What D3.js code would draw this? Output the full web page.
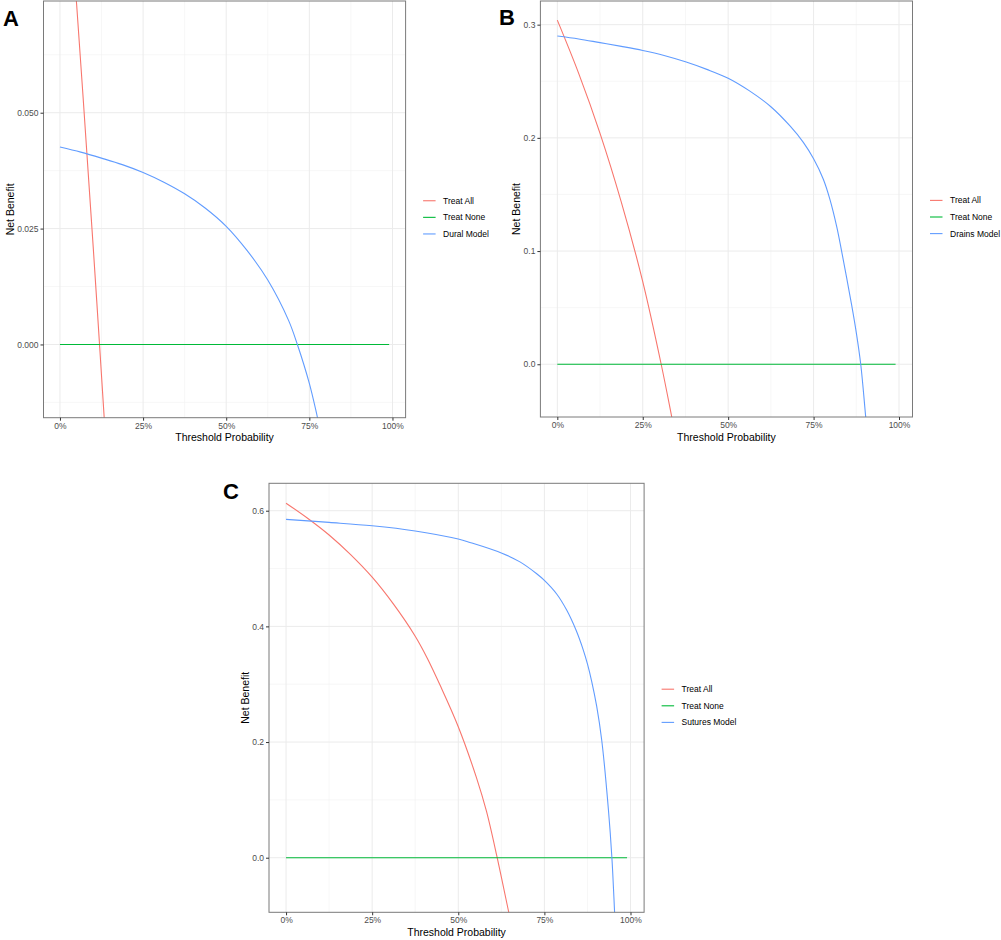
<!DOCTYPE html>
<html>
  <head>
    <title> Decision Curves </title>
    <script src="https://d3js.org/d3.v7.min.js"></script>
    <style>
      body { margin: 0; background: #fff; }
      svg { display: block; font-family: "Liberation Sans", Arial, sans-serif; }
    </style>
  </head>
  <body>
  <svg width="1001" height="940"></svg>
  <script>

    //threshold ticks shared by all panels
    var xTicks = [0, 0.25, 0.5, 0.75, 1];
    var xMinor = [0.125, 0.375, 0.625, 0.875];

    //treat none is flat on zero everywhere
    var noneX = [0, 0.99];
    var noneY = [0, 0];

    //panel A - dural
    var aAllX = [0, 0.05, 0.10, 0.119, 0.15];
    var aAllY = [0.122, 0.0735, 0.021, 0, -0.035];
    var aModelX = [0, 0.0625, 0.125, 0.1875, 0.25, 0.3125, 0.375, 0.4375, 0.5, 0.5625, 0.625, 0.6875, 0.714, 0.75, 0.774, 0.8];
    var aModelY = [0.0426, 0.0415, 0.0402, 0.0388, 0.0371, 0.0350, 0.0325, 0.0294, 0.0255, 0.0203, 0.0139, 0.0052, 0, -0.0084, -0.0156, -0.024];
    var aYTicks = [0, 0.025, 0.05];
    var aYMinor = [-0.0125, 0.0125, 0.0375, 0.0625];
    var aNames = ["Treat All", "Treat None", "Dural Model"];

    //panel B - drains
    var bAllX = [0, 0.0625, 0.125, 0.1875, 0.25, 0.304, 0.335, 0.35];
    var bAllY = [0.304, 0.257, 0.204, 0.143, 0.073, 0, -0.0466, -0.07];
    var bModelX = [0, 0.0625, 0.125, 0.1875, 0.25, 0.3125, 0.375, 0.4375, 0.5, 0.5625, 0.625, 0.681, 0.72, 0.75, 0.7785, 0.798, 0.8177, 0.832, 0.847, 0.8616, 0.875, 0.888, 0.9025, 0.91];
    var bModelY = [0.290, 0.2874, 0.2841, 0.2808, 0.2772, 0.2728, 0.2672, 0.2605, 0.2527, 0.2415, 0.2275, 0.2105, 0.1960, 0.1815, 0.1635, 0.1455, 0.1216, 0.1, 0.076, 0.052, 0.028, 0, -0.0463, -0.07];
    var bYTicks = [0, 0.1, 0.2, 0.3];
    var bYMinor = [0.05, 0.15, 0.25];
    var bNames = ["Treat All", "Treat None", "Drains Model"];

    //panel C - sutures
    var cAllX = [0, 0.0625, 0.125, 0.1875, 0.25, 0.3125, 0.375, 0.41, 0.447, 0.5, 0.553, 0.582, 0.613, 0.645, 0.66];
    var cAllY = [0.613, 0.587, 0.558, 0.524, 0.485, 0.438, 0.383, 0.345, 0.2985, 0.2265, 0.138, 0.08, 0, -0.09, -0.13];
    var cModelX = [0, 0.125, 0.25, 0.375, 0.5, 0.534, 0.625, 0.679, 0.7277, 0.75, 0.7857, 0.8147, 0.8418, 0.863, 0.875, 0.8873, 0.9018, 0.9164, 0.936, 0.946, 0.954, 0.96];
    var cModelY = [0.585, 0.5798, 0.574, 0.565, 0.551, 0.5452, 0.527, 0.5115, 0.491, 0.4795, 0.456, 0.4282, 0.3936, 0.359, 0.335, 0.305, 0.262, 0.2035, 0.0825, 0, -0.096, -0.17];
    var cYTicks = [0, 0.2, 0.4, 0.6];
    var cYMinor = [0.1, 0.3, 0.5];
    var cNames = ["Treat All", "Treat None", "Sutures Model"];

    var colors = ["#F8766D", "#00BA38", "#619CFF"];

    var svg = d3.select("svg");

    function zip(xs, ys) {
      return xs.map(function(x, i) { return {x: x, y: ys[i]}; });
    }

    function drawPanel(p) {
      var w = p.right - p.left, h = p.bottom - p.top;

      var x = d3.scaleLinear().domain([-0.0495, 1.0395]).range([0, w]);
      var y = d3.scaleLinear().domain(p.yDomain).range([h, 0]);

      var g = svg.append("g")
        .attr("transform", "translate(" + p.left + "," + p.top + ")");

      //minor + major grid
      g.selectAll(".vminor").data(xMinor).enter().append("line")
        .attr("x1", d => x(d)).attr("x2", d => x(d))
        .attr("y1", 0).attr("y2", h)
        .attr("stroke", "#f2f2f2").attr("stroke-width", 0.6);
      g.selectAll(".hminor").data(p.yMinor.filter(d => d > p.yDomain[0] && d < p.yDomain[1])).enter().append("line")
        .attr("x1", 0).attr("x2", w)
        .attr("y1", d => y(d)).attr("y2", d => y(d))
        .attr("stroke", "#f2f2f2").attr("stroke-width", 0.6);
      g.selectAll(".vmajor").data(xTicks).enter().append("line")
        .attr("x1", d => x(d)).attr("x2", d => x(d))
        .attr("y1", 0).attr("y2", h)
        .attr("stroke", "#ebebeb").attr("stroke-width", 1);
      g.selectAll(".hmajor").data(p.yTicks).enter().append("line")
        .attr("x1", 0).attr("x2", w)
        .attr("y1", d => y(d)).attr("y2", d => y(d))
        .attr("stroke", "#ebebeb").attr("stroke-width", 1);

      //clip the curves to the panel
      var clipId = "clip" + p.letter;
      g.append("clipPath").attr("id", clipId)
        .append("rect").attr("width", w).attr("height", h);

      var line = d3.line()
        .x(d => x(d.x)).y(d => y(d.y))
        .curve(d3.curveCatmullRom.alpha(0.5));

      var series = [zip(p.allX, p.allY), zip(noneX, noneY), zip(p.modelX, p.modelY)];
      g.append("g").attr("clip-path", "url(#" + clipId + ")")
        .selectAll("path").data(series).enter().append("path")
        .attr("d", line)
        .attr("fill", "none")
        .attr("stroke", (d, i) => colors[i])
        .attr("stroke-width", 1.1);

      //panel border
      g.append("rect")
        .attr("width", w).attr("height", h)
        .attr("fill", "none").attr("stroke", "#7a7a7a").attr("stroke-width", 1);

      //axes
      var xAxis = g.append("g")
        .attr("transform", "translate(0," + h + ")")
        .call(d3.axisBottom(x).tickValues(xTicks).tickSize(3).tickPadding(2)
          .tickFormat(d3.format(".0%")));
      var yAxis = g.append("g")
        .call(d3.axisLeft(y).tickValues(p.yTicks).tickSize(3).tickPadding(2)
          .tickFormat(d3.format(p.yFormat)));
      [xAxis, yAxis].forEach(function(a) {
        a.select(".domain").remove();
        a.selectAll(".tick line").attr("stroke", "#333");
        a.selectAll(".tick text").attr("fill", "#4d4d4d").attr("font-size", "8.5px")
          .attr("font-family", "Liberation Sans, Arial, sans-serif");
      });

      //axis titles
      g.append("text")
        .attr("x", w / 2).attr("y", h + 23.5)
        .attr("text-anchor", "middle")
        .attr("font-size", "10.5px")
        .text("Threshold Probability");

      var labW = d3.max(yAxis.selectAll(".tick text").nodes(), n => n.getComputedTextLength());
      g.append("text")
        .attr("transform", "translate(" + (-5 - labW - 7 + 3.5) + "," + (h / 2) + ") rotate(-90)")
        .attr("text-anchor", "middle")
        .attr("font-size", "10.5px")
        .text("Net Benefit");

      //legend
      var leg = g.append("g")
        .attr("transform", "translate(" + (w + 17.5) + "," + (h / 2) + ")");
      var rows = leg.selectAll("g").data(p.names).enter().append("g")
        .attr("transform", (d, i) => "translate(0," + (-8.6 + i * 16.6) + ")");
      rows.append("line")
        .attr("x1", 0).attr("x2", 12.5)
        .attr("stroke", (d, i) => colors[i]).attr("stroke-width", 1.1);
      rows.append("text")
        .attr("x", 20).attr("dy", "0.35em")
        .attr("font-size", "8.5px")
        .text(d => d);

      //panel letter
      svg.append("text")
        .attr("x", p.lx).attr("y", p.ly)
        .attr("font-size", "22px")
        .attr("font-weight", "bold")
        .text(p.letter);
    }

    drawPanel({letter: "A", lx: 3, ly: 26, left: 43.5, right: 405.6, top: 1, bottom: 417.7,
      yDomain: [-0.0158, 0.0741], yTicks: aYTicks, yMinor: aYMinor, yFormat: ".3f",
      allX: aAllX, allY: aAllY, modelX: aModelX, modelY: aModelY, names: aNames});

    drawPanel({letter: "B", lx: 499, ly: 25, left: 540.4, right: 912.5, top: 1, bottom: 417,
      yDomain: [-0.0466, 0.3209], yTicks: bYTicks, yMinor: bYMinor, yFormat: ".1f",
      allX: bAllX, allY: bAllY, modelX: bModelX, modelY: bModelY, names: bNames});

    drawPanel({letter: "C", lx: 223, ly: 499, left: 269, right: 644.1, top: 483.3, bottom: 912.3,
      yDomain: [-0.0944, 0.6474], yTicks: cYTicks, yMinor: cYMinor, yFormat: ".1f",
      allX: cAllX, allY: cAllY, modelX: cModelX, modelY: cModelY, names: cNames});

  </script>
  </body>
</html>
